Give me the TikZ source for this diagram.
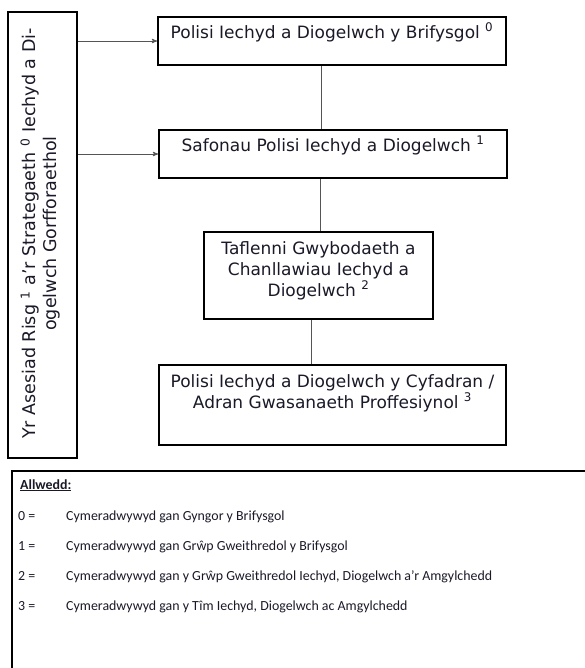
\documentclass[tikz,border=0pt]{standalone}
\usepackage{fontspec}
\usepackage{tikz}
\usetikzlibrary{arrows}
\usetikzlibrary{positioning}
\newfontfamily\verdfont{DejaVu Sans}
\newfontfamily\keyfont{Carlito}
\definecolor{ink}{RGB}{25,25,40}
\definecolor{linkgray}{RGB}{85,85,85}

\begin{document}
\begin{tikzpicture}[x=1pt,y=-1pt,>=stealth',
  pol box/.style={draw,line width=1.8pt,inner sep=0pt},
  pol text/.style={align=center,inner sep=0pt,text=ink,
    font=\verdfont\fontsize{17}{21}\selectfont},
  key text/.style={anchor=base west,inner sep=0pt,text=ink,
    font=\keyfont\fontsize{13.9}{16}\selectfont},
  link/.style={draw=linkgray,line width=0.9pt}]

  \useasboundingbox (0,0) rectangle (585,668);
  \clip (0,0) rectangle (585,668);

  % policy boxes
  \node[pol box,minimum width=348pt,minimum height=48pt] (polA) at (332,41) {};
  \node[pol box,minimum width=348pt,minimum height=48pt] (polB) at (333,154) {};
  \node[pol box,minimum width=229pt,minimum height=87pt] (polC) at (318.5,275.5) {};
  \node[pol box,minimum width=347pt,minimum height=80pt] (polD) at (332.5,405) {};
  \node[pol box,line width=2.6pt,minimum width=69pt,minimum height=446pt] (risk) at (42.5,235) {};

  % texts, anchored on the last baseline
  \node[pol text,anchor=base] (polAtxt) at ([yshift=-22pt]polA.north)
    {Polisi Iechyd a Diogelwch y Brifysgol \textsuperscript{0}};
  \node[pol text,anchor=base] (polBtxt) at ([yshift=-22pt]polB.north)
    {Safonau Polisi Iechyd a Diogelwch \textsuperscript{1}};
  \node[pol text,anchor=base] (polCtxt) at ([yshift=-65pt]polC.north)
    {Taflenni Gwybodaeth a\\Chanllawiau Iechyd a\\Diogelwch \textsuperscript{2}};
  \node[pol text,anchor=base] (polDtxt) at ([yshift=-44pt]polD.north)
    {Polisi Iechyd a Diogelwch y Cyfadran /\\Adran Gwasanaeth Proffesiynol \textsuperscript{3}};
  \node[pol text,rotate=90,font=\verdfont\fontsize{17.5}{21}\selectfont] (risktxt) at (40.5,233.5)
    {Yr Asesiad Risg \textsuperscript{1} a’r Strategaeth \textsuperscript{0} Iechyd a Di-\\ogelwch Gorfforaethol};

  % connectors
  \draw[link] ([xshift=-11pt]polA.south) -- ([xshift=-11pt]polA.south |- polB.north);
  \draw[link] ([xshift=-13pt]polB.south) -- ([xshift=-13pt]polB.south |- polC.north);
  \draw[link] ([xshift=-7.5pt]polC.south) -- ([xshift=-7.5pt]polC.south |- polD.north);
  \draw[link,->] (risk.east |- polA.west) -- (polA.west);
  \draw[link,->] (risk.east |- polB.west) -- (polB.west);

  % key
  \node[draw,line width=2.2pt,inner sep=0pt,anchor=north west,
    minimum width=620pt,minimum height=240pt] (key) at (11,470) {};
  \node[key text] (keyhead) at (20,489) {\underline{\textbf{Allwedd:}}};
  \node[key text] (keyn0) at (18,520) {0 =};
  \node[key text] (keyt0) at (66,520) {Cymeradwywyd gan Gyngor y Brifysgol};
  \node[key text] (keyn1) at (18,550) {1 =};
  \node[key text] (keyt1) at (66,550) {Cymeradwywyd gan Grŵp Gweithredol y Brifysgol};
  \node[key text] (keyn2) at (18,580) {2 =};
  \node[key text] (keyt2) at (66,580) {Cymeradwywyd gan y Grŵp Gweithredol Iechyd, Diogelwch a’r Amgylchedd};
  \node[key text] (keyn3) at (18,610) {3 =};
  \node[key text] (keyt3) at (66,610) {Cymeradwywyd gan y Tîm Iechyd, Diogelwch ac Amgylchedd};
\end{tikzpicture}
\end{document}
